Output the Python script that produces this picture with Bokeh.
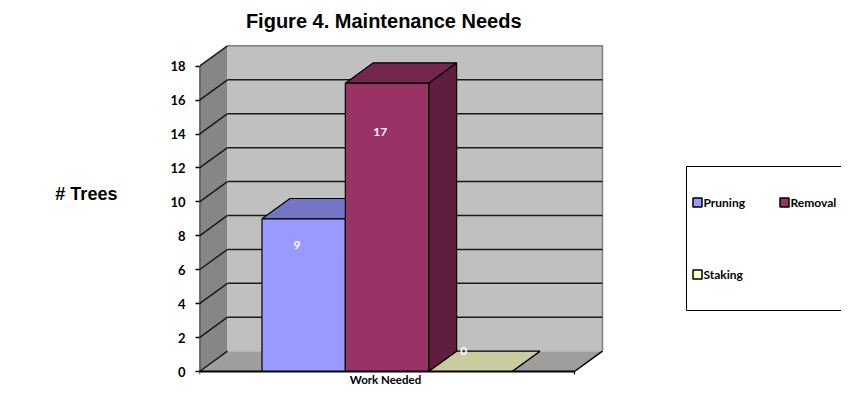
from bokeh.plotting import figure
from bokeh.models import Range1d, FixedTicker
from bokeh.core.properties import value
from bokeh.embed import file_html
from bokeh.resources import INLINE

# ---- data ----
categories = ["Pruning", "Removal", "Staking"]
trees = [9, 17, 0]
y_ticks = [0, 2, 4, 6, 8, 10, 12, 14, 16, 18]
title_text = "Figure 4.  Maintenance Needs"
x_label = "Work Needed"
y_label = "# Trees"

# ---- styles ----
front_colors = ["#9999FF", "#993366", "#FFFFCC"]
top_colors = ["#7575C6", "#74264F", "#CBCBA0"]
side_colors = ["#5C5C99", "#5F1E3F", "#99997A"]
legend_colors = ["#9999FF", "#993366", "#FFFFCC"]

# ---- geometry (layout) ----
BAR_W = 1.0
GAP = 0.75
N = len(categories)
X_END = 2 * GAP + N * BAR_W
Y_TOP = max(y_ticks)
DX = 0.336   # depth offset in x units
DY = 1.2     # depth offset in y units
PX_X = 83.33
PX_Y = 16.96
W, H = 841, 387
AX_LEFT = 199
ZERO_Y = 371


def ux(px):
    return (px - AX_LEFT) / PX_X


def vy(py):
    return (ZERO_Y - py) / PX_Y


p = figure(width=W, height=H,
           x_range=Range1d(ux(AX_LEFT), ux(W)),
           y_range=Range1d(vy(H), vy(0)),
           output_backend="svg", toolbar_location=None,
           x_axis_location=None,
           min_border_left=AX_LEFT, min_border_right=0,
           min_border_top=0, min_border_bottom=0)
p.outline_line_color = None
p.grid.grid_line_color = None
p.background_fill_color = "white"

ax = p.yaxis[0]
ax.ticker = FixedTicker(ticks=y_ticks)
ax.axis_line_color = None
ax.major_tick_out = 4
ax.major_tick_in = 0
ax.minor_tick_out = 0
ax.minor_tick_in = 0
ax.major_tick_line_color = "black"
ax.major_tick_line_width = 1.5
ax.major_label_text_font = "Lato"
ax.major_label_text_font_style = "bold"
ax.major_label_text_font_size = "13px"
ax.major_label_text_color = "black"
ax.major_label_standoff = 10
ax.axis_label = y_label
ax.axis_label_orientation = "horizontal"
ax.axis_label_standoff = 50
ax.axis_label_text_font = "Liberation Sans"
ax.axis_label_text_font_style = "bold"
ax.axis_label_text_font_size = "18px"
ax.axis_label_text_color = "black"

# walls
p.patch([0, 0, DX, DX], [0, Y_TOP, Y_TOP + DY, DY],
        fill_color="#868686", line_color=None)
p.patch([0, X_END, X_END + DX, DX], [0, 0, DY, DY],
        fill_color="#9E9E9E", line_color=None)
p.patch([DX, X_END + DX, X_END + DX, DX], [DY, DY, Y_TOP + DY, Y_TOP + DY],
        fill_color="#C0C0C0", line_color=None)

# back wall border
p.line([DX, X_END + DX, X_END + DX], [Y_TOP + DY, Y_TOP + DY, DY],
       line_color="#7F7F7F", line_width=1.5)
p.segment(x0=[DX], y0=[DY], x1=[X_END + DX], y1=[DY],
          line_color="#B5B5B5", line_width=1)

# gridlines: side diagonals and back horizontals
p.segment(x0=[0] * len(y_ticks), y0=y_ticks,
          x1=[DX] * len(y_ticks), y1=[t + DY for t in y_ticks],
          line_color="#1A1A1A", line_width=1.5)
inner = y_ticks[1:-1]
p.segment(x0=[DX] * len(inner), y0=[t + DY for t in inner],
          x1=[X_END + DX] * len(inner), y1=[t + DY for t in inner],
          line_color="#1A1A1A", line_width=1.5)

# bars (painter's order: left to right, each right face, top, front)
xs, ys, fills = [], [], []
for i, v in enumerate(trees):
    x0 = GAP + i * BAR_W
    x1 = x0 + BAR_W
    xs.append([x1, x1 + DX, x1 + DX, x1])
    ys.append([0, DY, v + DY, v])
    fills.append(side_colors[i])
    xs.append([x0, x1, x1 + DX, x0 + DX])
    ys.append([v, v, v + DY, v + DY])
    fills.append(top_colors[i])
    xs.append([x0, x1, x1, x0])
    ys.append([0, 0, v, v])
    fills.append(front_colors[i])
p.patches(xs, ys, fill_color=fills, line_color="black", line_width=1.2)

# front axis line, floor edges
p.segment(x0=[0], y0=[0], x1=[0], y1=[Y_TOP], line_color="black", line_width=1.5)
p.segment(x0=[0], y0=[0], x1=[X_END], y1=[0], line_color="black", line_width=1.8)
p.segment(x0=[X_END], y0=[0], x1=[X_END + DX], y1=[DY], line_color="black", line_width=1.5)
p.segment(x0=[0, X_END], y0=[0, 0], x1=[0, X_END], y1=[-3 / PX_Y, -3 / PX_Y],
          line_color="black", line_width=1.2)

# data labels
lx = [GAP + i * BAR_W + 0.42 for i in range(N)]
ly = [max(v * 0.83, DY) for v in trees]
p.text(x=lx, y=ly, text=[str(v) for v in trees], text_color="white",
       text_font=value("Lato"), text_font_style="bold", text_font_size="12px",
       text_align="center", text_baseline="middle")

# title and x label
p.text(x=[ux(386)], y=[vy(20)], text=[title_text], text_color="black",
       text_font=value("Liberation Sans"), text_font_style="bold",
       text_font_size="20px", text_align="center", text_baseline="middle")
p.text(x=[ux(385)], y=[vy(379)], text=[x_label], text_color="black",
       text_font=value("Lato"), text_font_style="bold", text_font_size="11.5px",
       text_align="center", text_baseline="middle")

# legend (manual, clipped at the right like the reference)
p.quad(left=[ux(686)], right=[ux(900)], top=[vy(166)], bottom=[vy(310)],
       fill_color="white", line_color="black", line_width=1)
sw_x = [ux(697), ux(784), ux(697)]
sw_y = [vy(202), vy(202), vy(274)]
p.scatter(x=sw_x, y=sw_y, marker="square", size=9, fill_color=legend_colors,
          line_color="black", line_width=1.5)
p.text(x=[x + 6 / PX_X for x in sw_x], y=sw_y, text=categories,
       text_color="black", text_font=value("Lato"), text_font_style="bold",
       text_font_size="12px", text_align="left", text_baseline="middle")

open("out.html", "w").write(file_html(p, INLINE))
